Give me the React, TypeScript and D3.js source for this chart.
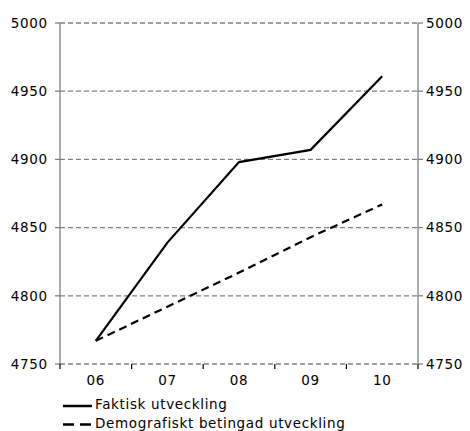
import React from "react";
import * as d3 from "d3";

const years = ["06", "07", "08", "09", "10"];
const faktisk = [4767, 4839, 4898, 4907, 4961];
const demografiskt = [4767, 4792, 4817, 4843, 4867];
const yTicks = [4750, 4800, 4850, 4900, 4950, 5000];
const legendLabels = ["Faktisk utveckling", "Demografiskt betingad utveckling"];

export default function App() {
  const W = 470, H = 431;
  const left = 60, right = 418, top = 23, bottom = 364;
  const x = d3.scaleBand<string>().domain(years).range([left, right]);
  const y = d3.scaleLinear().domain([4750, 5000]).range([bottom, top]);
  const cx = (d: string) => (x(d) as number) + x.bandwidth() / 2;
  const line = d3.line<number>().x((_, i) => cx(years[i])).y((v) => y(v));
  const font = "DejaVu Sans, Verdana, sans-serif";
  const fs = 13.5;
  const ls = 0.65;
  const grey = "#808080";
  const bounds = [...years.map((d) => x(d) as number), right];
  return (
    <svg width={W} height={H} style={{ position: "absolute", left: 0, top: 0 }} fontFamily={font}>
      <rect width={W} height={H} fill="#fff" />
      {yTicks.map((t) => (
        <g key={t}>
          <line x1={left} x2={right} y1={y(t)} y2={y(t)} stroke={grey} strokeWidth={1.3} strokeDasharray="5,3" />
          <line x1={left - 5} x2={left} y1={y(t)} y2={y(t)} stroke={grey} strokeWidth={1.3} />
          <line x1={right} x2={right + 5} y1={y(t)} y2={y(t)} stroke={grey} strokeWidth={1.3} />
          <text x={left - 13 + ls} y={y(t)} dy="0.36em" textAnchor="end" fontSize={fs} letterSpacing={ls} fill="#000">{t}</text>
          <text x={right + 8} y={y(t)} dy="0.36em" textAnchor="start" fontSize={fs} letterSpacing={ls} fill="#000">{t}</text>
        </g>
      ))}
      <line x1={left} x2={left} y1={top} y2={bottom} stroke={grey} strokeWidth={1.3} />
      <line x1={right} x2={right} y1={top} y2={bottom} stroke={grey} strokeWidth={1.3} />
      {bounds.map((b, i) => (
        <line key={i} x1={b} x2={b} y1={bottom} y2={bottom + 5} stroke="#000" strokeWidth={1.2} />
      ))}
      {years.map((d) => (
        <text key={d} x={cx(d)} y={bottom + 21} textAnchor="middle" fontSize={fs} letterSpacing={ls} fill="#000">{d}</text>
      ))}
      <path d={line(demografiskt) || ""} fill="none" stroke="#000" strokeWidth={2.2} strokeDasharray="8,5" />
      <path d={line(faktisk) || ""} fill="none" stroke="#000" strokeWidth={2.2} />
      {legendLabels.map((l, i) => (
        <g key={l}>
          <line x1={63} x2={92} y1={406 + i * 18.5} y2={406 + i * 18.5} stroke="#000" strokeWidth={2.5} strokeDasharray={i === 1 ? "11,6" : undefined} />
          <text x={95} y={409 + i * 19} fontSize={fs} letterSpacing={ls} fill="#000">{l}</text>
        </g>
      ))}
    </svg>
  );
}
